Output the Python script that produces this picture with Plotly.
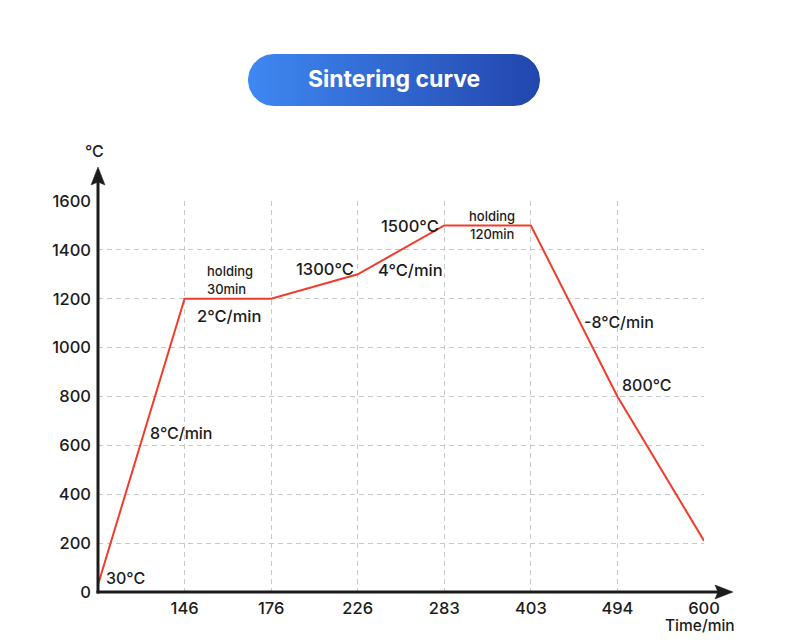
import numpy as np
import plotly.graph_objects as go

W, H = 790, 644

# ---- data ----
time_labels = ["0", "146", "176", "226", "283", "403", "494", "600"]
temps = [30, 1200, 1200, 1300, 1500, 1500, 800, 210]
y_ticks = [0, 200, 400, 600, 800, 1000, 1200, 1400, 1600]

FONT = "Inter"
INK = "#1c1c1c"
MED = 500


def px(x, y):
    return x / W, 1 - y / H


fig = go.Figure()

# main curve
fig.add_trace(go.Scatter(
    x=time_labels, y=temps, mode="lines",
    line=dict(color="#f03c2a", width=2),
    hoverinfo="skip", showlegend=False, xaxis="x", yaxis="y",
))

# title pill (decoration) on a pixel-space overlay axis
r = 26
cx1, cx2, cy = 248 + r, 540 - r, 80
t1 = np.linspace(np.pi / 2, 3 * np.pi / 2, 40)
t2 = np.linspace(-np.pi / 2, np.pi / 2, 40)
pill_x = np.concatenate([cx1 + r * np.cos(t1), cx2 + r * np.cos(t2), [cx1]])
pill_y = np.concatenate([cy - r * np.sin(t1), cy - r * np.sin(t2), [cy - r]])
fig.add_trace(go.Scatter(
    x=pill_x, y=pill_y, mode="lines", fill="toself",
    line=dict(width=0, color="rgba(0,0,0,0)"),
    fillgradient=dict(type="horizontal",
                      colorscale=[[0, "#3f88f2"], [1, "#2246ad"]]),
    hoverinfo="skip", showlegend=False, xaxis="x2", yaxis="y2",
))

x0p, y0p = px(98, 592)
x1p, y1p = px(704, 201)

grid = dict(showgrid=True, gridcolor="#c8c8c8", griddash="5px,4px",
            gridwidth=1, showline=False, zeroline=False, ticks="",
            automargin=False)
tickfont = dict(size=16.5, family=FONT, color=INK, weight=MED)

fig.update_layout(
    template="none",
    width=W, height=H,
    margin=dict(l=0, r=0, t=0, b=0, pad=0),
    paper_bgcolor="white", plot_bgcolor="rgba(0,0,0,0)",
    font=dict(family=FONT, color=INK, size=15),
    showlegend=False,
    xaxis=dict(
        type="category", domain=[x0p, x1p], range=[0, len(time_labels) - 1],
        tickvals=time_labels[1:], ticktext=time_labels[1:],
        ticklabelstandoff=4, anchor="y", tickfont=tickfont, **grid,
    ),
    yaxis=dict(
        domain=[y0p, y1p], range=[0, 1600], tickvals=y_ticks,
        ticklabelstandoff=6, anchor="x", tickfont=tickfont, **grid,
    ),
    xaxis2=dict(domain=[0, 1], range=[0, W], visible=False, anchor="y2",
                fixedrange=True, automargin=False),
    yaxis2=dict(domain=[0, 1], range=[H, 0], visible=False, anchor="x2",
                fixedrange=True, automargin=False),
)

# axis lines with arrowheads (paper-space decoration)
shapes = []


def pline(xa, ya, xb, yb):
    p, q = px(xa, ya)
    s, t = px(xb, yb)
    shapes.append(dict(type="line", xref="paper", yref="paper",
                       x0=p, y0=q, x1=s, y1=t,
                       line=dict(color=INK, width=3)))


def ppath(points):
    d = ""
    for i, (a, b) in enumerate(points):
        p, q = px(a, b)
        d += ("M" if i == 0 else "L") + f"{p:.5f},{q:.5f}"
    d += "Z"
    shapes.append(dict(type="path", xref="paper", yref="paper", path=d,
                       fillcolor=INK, line=dict(color=INK, width=0.5)))


pline(98, 593.5, 98, 182)
pline(96.5, 592, 718, 592)
ppath([(98, 167), (105, 185), (98, 182), (91, 185)])
ppath([(733, 592), (715, 599), (718, 592), (715, 585)])

annotations = []


def label(text, x, y, size=16, bold=False, color=INK):
    xx, yy = px(x, y)
    annotations.append(dict(
        xref="paper", yref="paper", x=xx, y=yy, text=text, showarrow=False,
        xanchor="center", yanchor="middle",
        font=dict(size=size, color=color, family=FONT,
                  weight="bold" if bold else MED),
    ))


label("Sintering curve", 394, 79, size=23, bold=True, color="white")
label("°C", 94, 151, size=16)
label("Time/min", 700, 625, size=15.5)
label("30°C", 126, 578, size=16)
label("8°C/min", 181, 433, size=16)
label("holding", 230, 271, size=13)
label("30min", 226, 289, size=13)
label("2°C/min", 229, 316, size=16.5)
label("1300°C", 325, 269, size=16.5)
label("1500°C", 410, 226, size=16.5)
label("4°C/min", 410, 270, size=16.5)
label("holding", 492, 216, size=13)
label("120min", 492, 234, size=13)
label("-8°C/min", 619, 322, size=16)
label("800°C", 647, 385, size=16)

fig.update_layout(annotations=annotations, shapes=shapes)

fig.write_html("out.html")
